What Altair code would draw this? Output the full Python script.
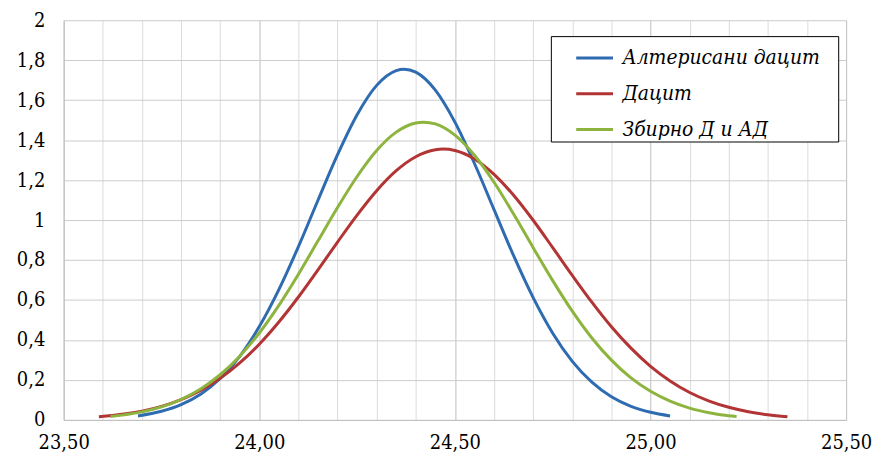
import altair as alt
import pandas as pd

# Series names (legend order)
series_names = ["Алтерисани дацит", "Дацит", "Збирно Д и АД"]
series_colors = ["#2E6BB0", "#B23434", "#8DB43E"]

# Алтерисани дацит
x_alt = [23.69, 23.75, 23.80, 23.85, 23.90, 23.95, 24.00, 24.05, 24.10, 24.15, 24.20,
         24.25, 24.30, 24.35, 24.37, 24.40, 24.45, 24.50, 24.55, 24.60, 24.65, 24.70,
         24.75, 24.80, 24.85, 24.90, 24.95, 25.00, 25.05]
y_alt = [0.020, 0.043, 0.076, 0.128, 0.207, 0.318, 0.467, 0.652, 0.867, 1.099, 1.327,
         1.527, 1.674, 1.748, 1.755, 1.740, 1.650, 1.490, 1.283, 1.052, 0.822, 0.612,
         0.434, 0.293, 0.189, 0.116, 0.068, 0.038, 0.020]

# Дацит
x_dac = [23.59, 23.65, 23.70, 23.75, 23.80, 23.85, 23.90, 23.95, 24.00, 24.05, 24.10,
         24.15, 24.20, 24.25, 24.30, 24.35, 24.40, 24.45, 24.47, 24.50, 24.55, 24.60,
         24.65, 24.70, 24.75, 24.80, 24.85, 24.90, 24.95, 25.00, 25.05, 25.10, 25.15,
         25.20, 25.25, 25.30, 25.35]
y_dac = [0.016, 0.028, 0.044, 0.068, 0.102, 0.148, 0.208, 0.285, 0.379, 0.490, 0.615,
         0.751, 0.890, 1.025, 1.147, 1.247, 1.317, 1.352, 1.355, 1.348, 1.306, 1.229,
         1.124, 0.999, 0.862, 0.723, 0.589, 0.466, 0.359, 0.268, 0.195, 0.137, 0.094,
         0.063, 0.041, 0.026, 0.016]

# Збирно Д и АД
x_zb = [23.62, 23.65, 23.70, 23.75, 23.80, 23.85, 23.90, 23.95, 24.00, 24.05, 24.10,
        24.15, 24.20, 24.25, 24.30, 24.35, 24.40, 24.42, 24.45, 24.50, 24.55, 24.60,
        24.65, 24.70, 24.75, 24.80, 24.85, 24.90, 24.95, 25.00, 25.05, 25.10, 25.15,
        25.20, 25.22]
y_zb = [0.017, 0.024, 0.040, 0.065, 0.102, 0.155, 0.226, 0.319, 0.435, 0.573, 0.729,
        0.896, 1.063, 1.218, 1.348, 1.440, 1.486, 1.490, 1.481, 1.425, 1.324, 1.189,
        1.030, 0.862, 0.697, 0.544, 0.410, 0.299, 0.210, 0.143, 0.094, 0.059, 0.036,
        0.021, 0.017]

# Axis tick values
x_ticks = [23.5, 23.6, 23.7, 23.8, 23.9, 24.0, 24.1, 24.2, 24.3, 24.4, 24.5,
           24.6, 24.7, 24.8, 24.9, 25.0, 25.1, 25.2, 25.3, 25.4, 25.5]
y_ticks = [0, 0.2, 0.4, 0.6, 0.8, 1.0, 1.2, 1.4, 1.6, 1.8, 2.0]

rows = []
for name, xs, ys in zip(series_names, [x_alt, x_dac, x_zb], [y_alt, y_dac, y_zb]):
    for i, (xv, yv) in enumerate(zip(xs, ys)):
        rows.append({"series": name, "x": xv, "y": yv, "order": i})
df = pd.DataFrame(rows)

axis_font = "DejaVu Serif Condensed"
legend_font = "DejaVu Serif Condensed"

major_test = "abs(datum.value*2 - round(datum.value*2)) < 0.001"

chart = alt.Chart(df).mark_line(strokeWidth=3, interpolate="monotone").encode(
    x=alt.X("x:Q", scale=alt.Scale(domain=[23.5, 25.5], nice=False, zero=False),
            axis=alt.Axis(values=x_ticks, title=None, ticks=False, labelPadding=13,
                          labelExpr=f"({major_test}) ? replace(format(datum.value, '.2f'), '.', ',') : ''",
                          gridColor={"condition": {"test": major_test, "value": "#BDBDBD"},
                                     "value": "#DCDCDC"},
                          labelFlush=False, labelOverlap=False)),
    y=alt.Y("y:Q", scale=alt.Scale(domain=[0, 2], nice=False),
            axis=alt.Axis(values=y_ticks, title=None, ticks=False, labelPadding=19,
                          gridColor="#CCCCCC",
                          labelExpr="replace(format(datum.value, '.1~f'), '.', ',')")),
    color=alt.Color("series:N",
                    scale=alt.Scale(domain=series_names, range=series_colors),
                    legend=alt.Legend(title="\u00a0", titleOrient="right", titleFontSize=4,
                                      titlePadding=16,
                                      orient="none", legendX=490, legendY=16,
                                      symbolType="stroke", symbolSize=1369,
                                      symbolStrokeWidth=3, symbolOffset=22,
                                      labelFont=legend_font,
                                      labelFontStyle="italic", labelFontSize=21,
                                      labelColor="black", labelOffset=8,
                                      strokeColor="black", fillColor="white",
                                      padding=2, rowPadding=6, labelLimit=400)),
    order="order:Q",
).properties(
    width=787, height=402,
    padding={"left": 56, "top": 11, "right": 26, "bottom": 32},
    autosize=alt.AutoSizeParams(type="none"),
).configure_axis(
    labelFont=axis_font, labelFontSize=20, labelColor="black",
    domainColor="#BFBFBF", domainWidth=1, gridWidth=1,
).configure_view(stroke=None)

chart.save("out.html", embed_options={"renderer": "svg", "actions": False})
